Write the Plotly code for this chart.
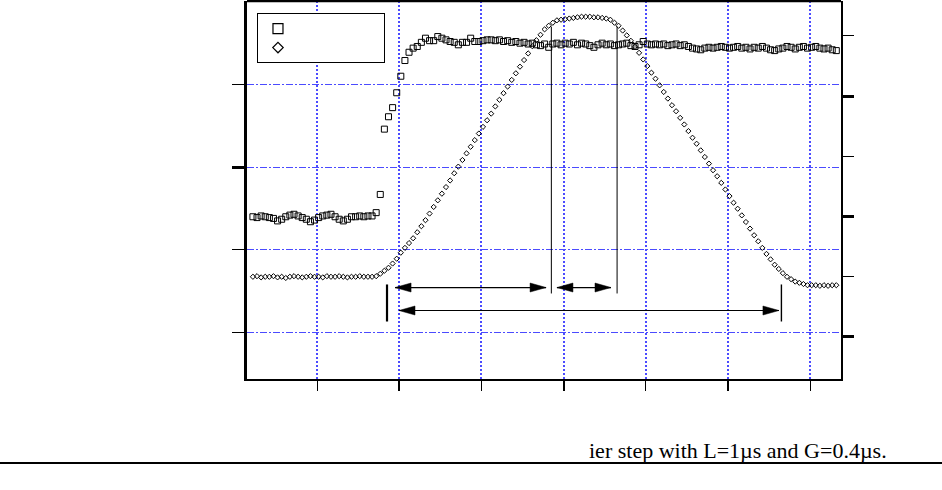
import plotly.graph_objects as go

# ---------------- data ----------------
T0 = 0.61      # first sample time (us)
DT = 0.025     # sampling interval (us)

# input signal (squares, left axis)
step_signal = [
    1.40, 1.39, 1.41, 1.40, 1.39, 1.38, 1.35, 1.37, 1.40, 1.42,
    1.43, 1.41, 1.39, 1.37, 1.34, 1.36, 1.39, 1.41, 1.42, 1.43,
    1.40, 1.37, 1.35, 1.37, 1.40, 1.40, 1.41, 1.40, 1.41, 1.41,
    1.45, 1.67, 2.46, 2.61, 2.72, 2.90, 3.10, 3.29, 3.39, 3.44,
    3.46, 3.51, 3.56, 3.53, 3.53, 3.58, 3.56, 3.54, 3.52, 3.51,
    3.48, 3.51, 3.51, 3.56, 3.52, 3.52, 3.53, 3.54, 3.54, 3.53,
    3.54, 3.52, 3.53, 3.51, 3.52, 3.50, 3.51, 3.49, 3.50, 3.48,
    3.47, 3.49, 3.45, 3.49, 3.50, 3.48, 3.50, 3.49, 3.51, 3.48,
    3.50, 3.49, 3.47, 3.45, 3.48, 3.50, 3.48, 3.49, 3.47, 3.48,
    3.49, 3.50, 3.47, 3.46, 3.48, 3.52, 3.49, 3.48, 3.49, 3.48,
    3.49, 3.47, 3.48, 3.49, 3.47, 3.48, 3.46, 3.44, 3.43, 3.42,
    3.44, 3.45, 3.44, 3.45, 3.46, 3.45, 3.44, 3.45, 3.46, 3.44,
    3.45, 3.43, 3.45, 3.44, 3.46, 3.44, 3.42, 3.41, 3.43, 3.44,
    3.46, 3.45, 3.43, 3.45, 3.46, 3.44, 3.45, 3.46, 3.44, 3.43,
    3.44, 3.42, 3.41,
]

# trapezoidal filter output (diamonds, right axis)
trapezoid_output = [
    1.00, 1.01, 0.99, 1.00, 1.00, 1.01, 0.99, 1.00, 0.98, 1.00,
    1.01, 1.00, 0.99, 1.00, 1.01, 1.00, 1.00, 0.99, 1.01, 1.00,
    1.00, 1.01, 1.00, 0.99, 1.00, 1.00, 1.01, 1.00, 1.00, 1.00,
    1.01, 1.05, 1.10, 1.15, 1.22, 1.30, 1.40, 1.48, 1.56, 1.64,
    1.74, 1.84, 1.94, 2.05, 2.16, 2.27, 2.38, 2.49, 2.60, 2.72,
    2.83, 2.94, 3.05, 3.16, 3.27, 3.38, 3.49, 3.60, 3.71, 3.83,
    3.94, 4.05, 4.16, 4.27, 4.38, 4.49, 4.60, 4.71, 4.83, 4.93,
    5.02, 5.11, 5.17, 5.22, 5.26, 5.27, 5.28, 5.29, 5.30, 5.31,
    5.32, 5.32, 5.32, 5.31, 5.31, 5.30, 5.29, 5.27, 5.22, 5.17,
    5.09, 5.01, 4.92, 4.82, 4.72, 4.61, 4.50, 4.39, 4.29, 4.18,
    4.07, 3.96, 3.85, 3.75, 3.64, 3.53, 3.42, 3.31, 3.21, 3.10,
    2.99, 2.88, 2.77, 2.67, 2.56, 2.45, 2.34, 2.23, 2.13, 2.02,
    1.91, 1.80, 1.69, 1.59, 1.48, 1.38, 1.29, 1.20, 1.13, 1.06,
    1.00, 0.96, 0.92, 0.90, 0.88, 0.86, 0.86, 0.86, 0.85, 0.86,
    0.85, 0.86, 0.86,
]

# filter parameters (us)
T_STEP = 1.426
L = 1.0
G = 0.4

CAPTION = "ier step with L=1\u00b5s and G=0.4\u00b5s."
LEGEND_NAMES = ["\u00a0" * 26, "\u00a0" * 27]

# ---------------- styles ----------------
BLUE = "#4b4bff"
X_RANGE = [0.574, 4.1886]
Y1_RANGE = [-0.5625, 4.010]
Y2_RANGE = [-0.698, 5.581]

fig = go.Figure()

fig.add_trace(go.Scatter(
    x0=T0, dx=DT, y=step_signal, mode="markers", showlegend=False,
    marker=dict(symbol="square-open", size=6, color="black", line=dict(width=1, color="black")),
    yaxis="y",
))
fig.add_trace(go.Scatter(
    x0=T0, dx=DT, y=trapezoid_output, mode="markers", showlegend=False,
    marker=dict(symbol="diamond-open", size=4, color="black", line=dict(width=1, color="black")),
    yaxis="y2",
))
# legend samples
fig.add_trace(go.Scatter(
    x=[None], y=[None], mode="markers", name=LEGEND_NAMES[0],
    marker=dict(symbol="square-open", size=10, color="black", line=dict(width=1.2, color="black")),
))
fig.add_trace(go.Scatter(
    x=[None], y=[None], mode="markers", name=LEGEND_NAMES[1],
    marker=dict(symbol="diamond-open", size=8, color="black", line=dict(width=1.2, color="black")),
))

shapes = []
# vertical markers
v_lines = [
    (T_STEP, 0.133, 0.581, 2.2),
    (T_STEP + L, 0.472, 3.70, 1.0),
    (T_STEP + L + G, 0.472, 3.70, 1.0),
    (T_STEP + 2 * L + G, 0.133, 0.581, 1.4),
]
for xv, y0, y1, w in v_lines:
    shapes.append(dict(type="line", xref="x", yref="y", x0=xv, x1=xv, y0=y0, y1=y1,
                       line=dict(color="black", width=w)))

# double-headed arrows: (x_left_tip, x_right_tip, y)
arrows = [
    (T_STEP + 0.049, T_STEP + L - 0.032, 0.544),
    (T_STEP + L + 0.034, T_STEP + L + G - 0.037, 0.544),
    (T_STEP + 0.073, T_STEP + 2 * L + G - 0.015, 0.266),
]
for xa, xb, ya in arrows:
    shapes.append(dict(type="line", xref="x", yref="y", x0=xa, x1=xb, y0=ya, y1=ya,
                       line=dict(color="black", width=1.2)))
    shapes.append(dict(type="path", xref="x", yref="y", xsizemode="pixel", ysizemode="pixel",
                       xanchor=xa, yanchor=ya, path="M0,0 L16,4.5 L16,-4.5 Z",
                       fillcolor="black", line=dict(color="black", width=0.5)))
    shapes.append(dict(type="path", xref="x", yref="y", xsizemode="pixel", ysizemode="pixel",
                       xanchor=xb, yanchor=ya, path="M0,0 L-16,4.5 L-16,-4.5 Z",
                       fillcolor="black", line=dict(color="black", width=0.5)))

# frame top line
shapes.append(dict(type="line", xref="paper", yref="paper", x0=0, x1=1, y0=1, y1=1,
                   line=dict(color="black", width=2.5)))
# page rule
shapes.append(dict(type="line", xref="paper", yref="paper", x0=-0.42, x1=1.18, y0=-0.222, y1=-0.222,
                   line=dict(color="black", width=2)))

fig.update_layout(
    width=942, height=490,
    margin=dict(l=247, r=101, t=1, b=111),
    paper_bgcolor="white", plot_bgcolor="white",
    font=dict(family="Liberation Serif", color="black"),
    shapes=shapes,
    showlegend=True,
    legend=dict(x=0.0168, y=0.968, xanchor="left", yanchor="top",
                bordercolor="black", borderwidth=1, bgcolor="white",
                font=dict(size=12), tracegroupgap=0, itemsizing="trace"),
    xaxis=dict(
        range=X_RANGE, showticklabels=False, zeroline=False,
        showline=True, linecolor="black", linewidth=1.5,
        ticks="outside", ticklen=10, tickwidth=2, tickcolor="black",
        tickmode="array", tickvals=[1.5, 2.5, 3.5],
        showgrid=True, gridcolor=BLUE, gridwidth=2, griddash="2px,2px",
        minor=dict(tickmode="array", tickvals=[1.0, 2.0, 3.0, 4.0], ticks="outside",
                   ticklen=10, tickwidth=1, tickcolor="black",
                   showgrid=True, gridcolor=BLUE, gridwidth=2, griddash="2px,2px"),
    ),
    yaxis=dict(
        range=Y1_RANGE, showticklabels=False, zeroline=False,
        showline=True, linecolor="black", linewidth=3,
        ticks="outside", ticklen=12, tickwidth=3, tickcolor="black",
        tickmode="array", tickvals=[2],
        showgrid=True, gridcolor=BLUE, gridwidth=1.2, griddash="7px,2px,2px,2px",
        minor=dict(tickmode="array", tickvals=[0, 1, 3], ticks="outside",
                   ticklen=12, tickwidth=1, tickcolor="black",
                   showgrid=True, gridcolor=BLUE, gridwidth=1.2, griddash="7px,2px,2px,2px"),
    ),
    yaxis2=dict(
        range=Y2_RANGE, overlaying="y", side="right", showticklabels=False,
        zeroline=False, showgrid=False,
        showline=True, linecolor="black", linewidth=1.5,
        ticks="outside", ticklen=11, tickwidth=3, tickcolor="black",
        tickmode="array", tickvals=[0, 2, 4],
        minor=dict(tickmode="array", tickvals=[1, 3, 5], ticks="outside",
                   ticklen=11, tickwidth=1, tickcolor="black"),
    ),
    annotations=[dict(text=CAPTION, xref="paper", yref="paper", x=0.572, y=-0.19,
                      xanchor="left", yanchor="middle", showarrow=False,
                      font=dict(family="Liberation Serif", size=22, color="black"))],
)

fig.write_html("out.html", config={"displayModeBar": False},
               post_script="document.body.style.margin='0px';")
